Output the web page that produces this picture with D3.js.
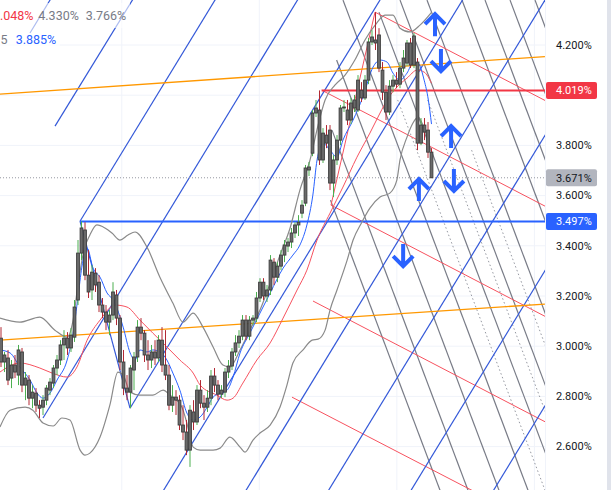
<!DOCTYPE html>
<html><head><meta charset="utf-8">
<script src="https://cdn.jsdelivr.net/npm/d3@7"></script>
<style>html,body{margin:0;padding:0;background:#fff;overflow:hidden}</style>
</head><body>
<svg id="c" width="611" height="490"></svg>
<script>
// ---- candles (yield %) ----
const openV=[3.032,2.937,2.953,2.873,2.925,2.885,2.977,2.845,2.865,2.793,2.813,2.765,2.757,2.785,2.825,2.853,2.913,2.945,3.005,3.032,2.993,3.036,3.184,3.371,3.463,3.283,3.224,3.291,3.255,3.164,3.136,3.096,3.124,3.204,3.112,2.937,2.833,2.817,2.905,2.957,3.076,3.052,2.965,2.945,2.977,2.953,3.024,2.925,2.885,2.765,2.797,2.785,2.686,2.658,2.586,2.738,2.698,2.825,2.773,2.757,2.793,2.881,2.845,2.809,2.817,2.897,2.921,2.977,3.013,3.040,3.104,3.040,3.104,3.112,3.192,3.255,3.200,3.224,3.335,3.275,3.319,3.363,3.399,3.415,3.451,3.483,3.530,3.570,3.702,3.769,3.929,3.941,3.742,3.841,3.861,3.650,3.742,3.821,3.949,3.941,3.901,3.949,3.941,4.020,3.989,4.060,4.212,4.220,4.240,4.100,4.012,3.933,4.036,4.060,4.044,4.108,4.128,4.208,4.120,4.132,3.809,3.881,3.861,3.773];
const highV=[3.076,2.977,2.985,2.945,2.965,3.005,2.993,2.897,2.885,2.845,2.833,2.785,2.805,2.845,2.873,2.925,2.965,3.024,3.064,3.056,3.072,3.184,3.423,3.497,3.494,3.383,3.323,3.311,3.283,3.192,3.164,3.144,3.255,3.224,3.124,2.985,2.885,2.925,2.977,3.104,3.112,3.064,3.024,3.005,3.024,3.044,3.076,3.064,2.925,2.845,2.825,2.805,2.765,2.706,2.765,2.785,2.845,2.865,2.805,2.825,2.905,2.913,2.865,2.845,2.913,2.945,2.993,3.044,3.064,3.124,3.124,3.120,3.124,3.216,3.271,3.271,3.244,3.363,3.351,3.335,3.383,3.423,3.431,3.471,3.494,3.522,3.582,3.722,3.734,3.941,3.981,4.019,3.869,3.881,3.881,3.761,3.841,3.961,3.981,3.981,3.989,4.001,4.080,4.052,4.080,4.228,4.259,4.331,4.267,4.132,4.040,4.060,4.080,4.092,4.132,4.180,4.220,4.228,4.248,4.148,3.909,3.909,3.893,3.789];
const lowV=[2.917,2.897,2.845,2.833,2.873,2.845,2.817,2.785,2.765,2.753,2.738,2.714,2.726,2.765,2.805,2.833,2.885,2.925,2.945,2.965,2.977,3.017,3.164,3.343,3.263,3.192,3.184,3.216,3.136,3.112,3.064,3.044,3.104,3.084,2.905,2.805,2.785,2.753,2.825,2.937,3.024,2.937,2.905,2.913,2.925,2.937,2.897,2.865,2.745,2.738,2.726,2.666,2.626,2.566,2.519,2.666,2.686,2.753,2.706,2.738,2.765,2.817,2.785,2.793,2.797,2.873,2.905,2.961,2.993,3.024,3.024,3.024,3.084,3.096,3.176,3.184,3.176,3.204,3.244,3.255,3.303,3.335,3.375,3.391,3.431,3.439,3.510,3.558,3.678,3.757,3.913,3.722,3.730,3.789,3.622,3.594,3.722,3.801,3.933,3.881,3.885,3.933,3.933,3.973,3.981,4.044,4.200,4.180,4.092,3.981,3.901,3.921,4.012,4.028,4.028,4.092,4.116,4.108,4.108,3.781,3.801,3.821,3.750,3.670];
const closeV=[2.937,2.965,2.865,2.925,2.897,2.985,2.845,2.873,2.793,2.817,2.765,2.753,2.785,2.833,2.857,2.913,2.945,3.005,3.032,2.993,3.044,3.156,3.371,3.471,3.283,3.216,3.295,3.244,3.164,3.136,3.096,3.124,3.216,3.112,2.937,2.833,2.817,2.913,2.957,3.076,3.052,2.965,2.945,2.977,2.953,3.024,2.925,2.885,2.765,2.797,2.785,2.686,2.658,2.586,2.745,2.698,2.825,2.773,2.757,2.793,2.881,2.845,2.809,2.825,2.897,2.921,2.977,3.013,3.040,3.104,3.040,3.104,3.112,3.192,3.255,3.200,3.224,3.343,3.275,3.319,3.363,3.403,3.415,3.451,3.483,3.494,3.562,3.710,3.714,3.929,3.949,3.742,3.849,3.809,3.650,3.742,3.821,3.949,3.953,3.901,3.969,3.981,4.060,3.989,4.060,4.212,4.232,4.208,4.108,4.012,3.933,4.036,4.060,4.044,4.108,4.148,4.208,4.120,4.236,3.809,3.881,3.853,3.773,3.671];

// ---- indicators: [bar index, value] ----
const bbUpper=[[-0.3,3.112],[5.4,3.096],[11.1,3.116],[15.4,3.064],[18.9,3.036],[20.6,3.104],[22.0,3.244],[23.7,3.383],[25.4,3.443],[27.4,3.483],[29.7,3.471],[31.7,3.451],[34.0,3.423],[36.3,3.443],[38.3,3.455],[41.7,3.395],[45.4,3.275],[49.1,3.172],[52.0,3.096],[54.9,3.132],[57.7,3.076],[60.6,2.997],[63.4,2.925],[65.4,2.917],[68.3,2.985],[71.1,3.064],[74.0,3.144],[76.9,3.251],[79.7,3.363],[82.6,3.471],[85.4,3.622],[88.3,3.742],[90.6,3.881],[92.6,3.981],[95.4,4.040],[98.3,4.080],[101.1,4.140],[104.0,4.220],[106.9,4.279],[109.7,4.319],[112.0,4.319],[114.0,4.267],[116.9,4.252],[119.7,4.279],[123,4.330]];
const bbLower=[[-0.3,2.678],[2.6,2.745],[6.9,2.757],[9.1,2.745],[12.0,2.694],[14.9,2.682],[17.4,2.714],[19.7,2.706],[22.6,2.586],[24.0,2.566],[25.4,2.574],[28.3,2.638],[31.1,2.765],[33.4,2.897],[34.9,2.885],[36.9,2.817],[39.7,2.805],[43.4,2.805],[46.3,2.825],[48.3,2.805],[51.7,2.757],[53.1,2.694],[54.9,2.598],[56.9,2.586],[60.6,2.586],[62.6,2.594],[65.4,2.638],[68.3,2.598],[69.7,2.578],[72.0,2.626],[74.0,2.654],[76.9,2.686],[79.7,2.757],[81.7,2.845],[83.4,2.933],[86.3,2.985],[88.9,3.024],[90.6,3.028],[92.6,3.064],[94.0,3.144],[96.0,3.224],[98.9,3.343],[100.6,3.423],[103.1,3.494],[105.4,3.550],[108.3,3.594],[111.1,3.610],[113.1,3.662],[114.0,3.742],[116.0,3.833],[117.7,3.889],[119.1,3.913],[121.1,3.861],[123,3.766]];
const bbBasis=[[-0.3,2.897],[5.4,2.933],[11.1,2.913],[14.6,2.893],[18.9,2.877],[21.7,2.917],[24.6,3.024],[28.3,3.104],[32.6,3.164],[36.0,3.156],[39.7,3.104],[43.4,3.052],[47.4,2.997],[51.1,2.945],[54.9,2.893],[56.9,2.845],[61.7,2.805],[64.6,2.785],[66.3,2.793],[69.1,2.853],[73.1,2.945],[76.9,3.013],[80.6,3.112],[84.6,3.224],[87.4,3.303],[90.3,3.423],[94.0,3.530],[97.7,3.634],[101.7,3.753],[105.4,3.849],[108.3,3.929],[110.3,3.981],[113.1,4.032],[116.0,4.068],[118.9,4.100],[120.9,4.092],[123,4.048]];
const ema5=[[-0.3,2.985],[2.6,2.973],[5.4,2.917],[8.3,2.865],[10.3,2.813],[12.0,2.793],[14.0,2.813],[16.0,2.865],[18.9,2.945],[20.6,3.052],[22.0,3.196],[23.1,3.315],[24.6,3.391],[26.3,3.311],[28.3,3.275],[30.3,3.212],[32.0,3.184],[33.1,3.152],[34.9,3.076],[36.9,2.973],[38.3,2.945],[39.7,2.985],[41.7,2.977],[43.4,2.985],[45.4,2.977],[47.4,2.945],[49.1,2.893],[51.1,2.825],[53.1,2.734],[54.9,2.706],[56.9,2.718],[58.9,2.757],[60.6,2.797],[62.6,2.813],[64.6,2.825],[66.3,2.877],[68.3,2.973],[71.1,3.052],[74.0,3.132],[76.9,3.212],[80.6,3.311],[83.4,3.363],[85.4,3.403],[87.4,3.483],[89.1,3.602],[90.3,3.742],[91.1,3.789],[92.0,3.809],[94.0,3.781],[96.0,3.753],[97.7,3.821],[100.6,3.901],[103.4,3.993],[106.3,4.112],[108.3,4.140],[110.3,4.132],[112.0,4.088],[114.0,4.060],[116.0,4.088],[117.7,4.128],[119.1,4.128],[120.9,4.060],[122.1,3.981],[123,3.885]];

// ---- drawings: segments [[bar,value],[bar,value]] ----
const blueLines=[[[8.29,4.248],[15.74,4.419]],[[15.43,3.877],[39.31,4.419]],[[22.57,3.498],[62.89,4.419]],[[12.0,2.714],[86.46,4.419]],[[36.86,2.753],[110.03,4.419]],[[44.74,2.387],[133.6,4.419]],[[68.31,2.387],[157.17,4.419]],[[91.89,2.387],[180.74,4.419]],[[115.46,2.387],[204.31,4.419]],[[139.03,2.387],[227.89,4.419]],[[22.57,3.498],[36.86,2.753]]];
const redLines=[[[106.86,4.331],[159.71,3.948]],[[91.63,4.020],[159.71,3.527]],[[94.29,3.562],[159.71,3.088]],[[89.14,3.180],[159.71,2.668]],[[83.14,2.797],[159.71,2.244]],[[94.29,3.562],[106.86,4.331]]];
const grayLines=[[[94.14,3.582],[126.49,2.387]],[[94.57,3.861],[134.49,2.387]],[[95.89,4.140],[143.34,2.387]],[[97.71,4.379],[151.63,2.387]],[[108.0,4.331],[160.63,2.387]],[[114.0,4.379],[167.9,2.387]],[[121.71,4.379],[175.63,2.387]],[[131.71,4.379],[185.63,2.387]],[[138.29,4.379],[192.2,2.387]],[[145.43,4.379],[199.3,2.387]],[[152.57,4.379],[206.5,2.387]]];
const dottedLines=[[[113.34,3.981],[156.49,2.387]],[[121.91,3.981],[165.06,2.387]],[[134.46,3.781],[172.2,2.387]]];
const orangeLines=[[[-0.3,4.004],[155.4,4.154]],[[-0.3,3.024],[155.4,3.168]]];
const hRed={from:91.63,value:4.019}, hBlue={from:22.57,value:3.497}, lastPrice=3.671;
const arrows=[{i:124.0,v:4.279,dir:"up"},{i:125.7,v:4.140,dir:"down"},{i:128.6,v:3.833,dir:"up"},{i:129.4,v:3.662,dir:"down"},{i:119.4,v:3.622,dir:"up"},{i:114.9,v:3.363,dir:"down"}];
const ticks=[2.6,2.8,3.0,3.2,3.4,3.6,3.8,4.0,4.2];
const gridBars=[34.5,73.8,113.1,152.4];
const legend1=[{t:".048%",c:"#f23645"},{t:"4.330%",c:"#787b86"},{t:"3.766%",c:"#787b86"}];
const legend2=[{t:"5",c:"#787b86"},{t:"3.885%",c:"#2962ff"}];

const W=611,H=490,PR=545;
const svg=d3.select("#c");
const xs=d3.scaleLinear().domain([0,123]).range([1,431.5]);
const ys=d3.scaleLinear().domain([2.6,4.2]).range([446.6,45]);

svg.append("defs").append("clipPath").attr("id","pc").append("rect").attr("x",0).attr("y",0).attr("width",PR).attr("height",H);
const g=svg.append("g").attr("clip-path","url(#pc)");

// grid
g.selectAll(".gh").data(ticks).join("line").attr("x1",0).attr("x2",PR).attr("y1",d=>ys(d)).attr("y2",d=>ys(d)).attr("stroke","#f0f3fa");
g.selectAll(".gv").data(gridBars).join("line").attr("y1",0).attr("y2",H).attr("x1",d=>xs(d)).attr("x2",d=>xs(d)).attr("stroke","#f0f3fa");

const seg=d3.line().x(d=>xs(d[0])).y(d=>ys(d[1]));
function drawSegs(data,color,w,dash){
  g.append("g").selectAll("path").data(data).join("path").attr("d",seg).attr("fill","none").attr("stroke",color).attr("stroke-width",w).attr("stroke-dasharray",dash||null);
}
drawSegs(dottedLines,"#9598a1",1,"1.5,2.5");
drawSegs(grayLines,"#787b86",1.2);
drawSegs(redLines,"#f7525f",1);
drawSegs(blueLines,"#3358d8",1.2);
drawSegs(orangeLines,"#ff9800",1.3);

// horizontals
g.append("line").attr("x1",0).attr("x2",PR).attr("y1",ys(lastPrice)).attr("y2",ys(lastPrice)).attr("stroke","#9598a1").attr("stroke-dasharray","1,2");
g.append("line").attr("x1",xs(hRed.from)).attr("x2",PR).attr("y1",ys(hRed.value)).attr("y2",ys(hRed.value)).attr("stroke","#f23645").attr("stroke-width",2);
g.append("line").attr("x1",xs(hBlue.from)).attr("x2",PR).attr("y1",ys(hBlue.value)).attr("y2",ys(hBlue.value)).attr("stroke","#2962ff").attr("stroke-width",2);

// indicators
const curve=d3.line().x(d=>xs(d[0])).y(d=>ys(d[1])).curve(d3.curveMonotoneX);
[[bbUpper,"#8a8a8a",1.2],[bbLower,"#8a8a8a",1.2],[bbBasis,"#f7525f",1],[ema5,"#2962ff",1]].forEach(([d,c,w])=>{
  g.append("path").attr("d",curve(d)).attr("fill","none").attr("stroke",c).attr("stroke-width",w);
});

// candles
const idx=d3.range(closeV.length);
const cg=g.append("g");
cg.selectAll("line").data(idx).join("line").attr("x1",i=>xs(i)).attr("x2",i=>xs(i)).attr("y1",i=>ys(highV[i])).attr("y2",i=>ys(lowV[i]))
  .attr("stroke",i=>closeV[i]>=openV[i]?"#4caf50":"#b22833").attr("stroke-width",1);
cg.selectAll("rect").data(idx).join("rect").attr("x",i=>xs(i)-1.4).attr("width",2.8)
  .attr("y",i=>ys(Math.max(openV[i],closeV[i]))).attr("height",i=>Math.max(1,Math.abs(ys(openV[i])-ys(closeV[i]))))
  .attr("fill","#6a6a6a").attr("stroke","#3c3c3c").attr("stroke-width",0.9);

// arrows
arrows.forEach(a=>{
  const x=xs(a.i),y=ys(a.v),s=a.dir==="up"?-1:1;
  g.append("path").attr("d",`M${x},${y-s*11}L${x},${y+s*11}M${x-10},${y+s*1}L${x},${y+s*11}L${x+10},${y+s*1}`)
   .attr("fill","none").attr("stroke","#2962ff").attr("stroke-width",4);
});

// legend
svg.append("rect").attr("x",0).attr("y",3).attr("width",130).attr("height",25).attr("fill","#fff").attr("opacity",0.6);
svg.append("rect").attr("x",0).attr("y",28).attr("width",60).attr("height",22).attr("fill","#fff").attr("opacity",0.6);
const lx1=[0,38.3,85.7], lx2=[0.5,15.7];
legend1.forEach((d,k)=>svg.append("text").attr("x",lx1[k]).attr("y",20).text(d.t).attr("fill",d.c).attr("font-family","Roboto").attr("font-size",12.5));
legend2.forEach((d,k)=>svg.append("text").attr("x",lx2[k]).attr("y",44).text(d.t).attr("fill",d.c).attr("font-family","Roboto").attr("font-size",12.5));

// price axis
svg.append("line").attr("x1",PR+0.5).attr("x2",PR+0.5).attr("y1",0).attr("y2",H).attr("stroke","#f0f3fa");
svg.append("rect").attr("x",607).attr("y",0).attr("width",4).attr("height",H).attr("fill","#e0e3eb");
const labels=[{v:hRed.value,bg:"#f23645",fg:"#fff"},{v:lastPrice,bg:"#b2b5be",fg:"#131722"},{v:hBlue.value,bg:"#2962ff",fg:"#fff"}];
const shown=ticks.filter(t=>labels.every(l=>Math.abs(ys(t)-ys(l.v))>12));
svg.selectAll(".tk").data(shown).join("text").attr("x",556).attr("y",d=>ys(d)).attr("dy","0.35em").text(d=>d.toFixed(3)+"%")
  .attr("fill","#131722").attr("font-family","Roboto").attr("font-size",11);
labels.forEach(l=>{
  const y=ys(l.v);
  svg.append("rect").attr("x",546).attr("y",y-8.5).attr("width",51).attr("height",17).attr("rx",2).attr("fill",l.bg);
  svg.append("text").attr("x",556).attr("y",y).attr("dy","0.35em").text(l.v.toFixed(3)+"%").attr("fill",l.fg).attr("font-family","Roboto").attr("font-size",11);
});
</script>
</body></html>
